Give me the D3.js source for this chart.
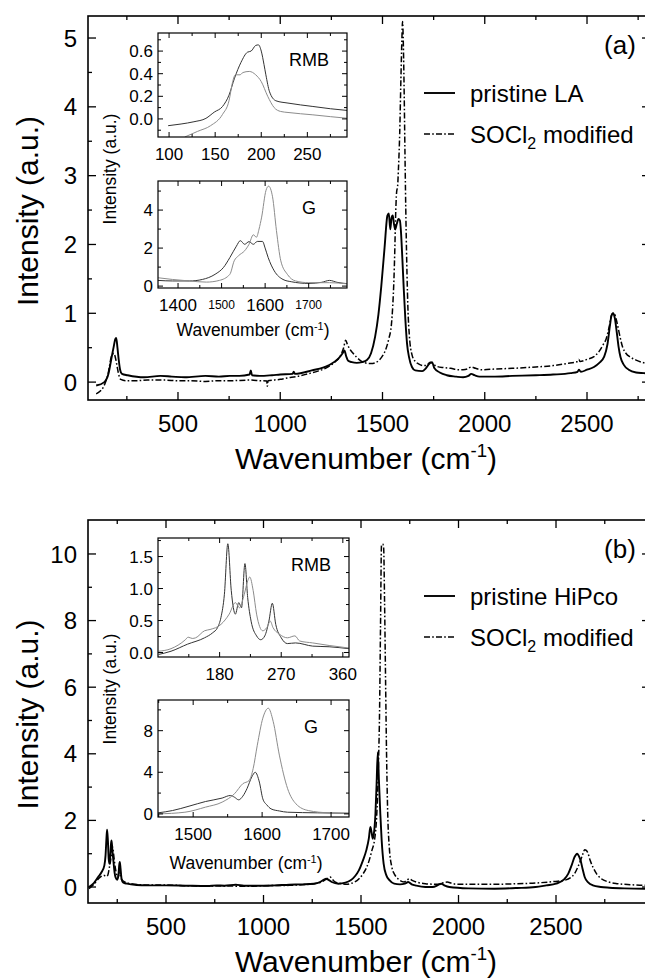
<!DOCTYPE html>
<html>
<head>
<meta charset="utf-8">
<script src="https://cdn.jsdelivr.net/npm/d3@7"></script>
<style>
  body { margin: 0; background: #fff; overflow: hidden; }
  svg { display: block; font-family: "Liberation Sans", Arial, sans-serif; }
</style>
</head>
<body>
<script>
// ---- spectra, [wavenumber, intensity] ----
const laPristineMain = [[100,-0.05],[140,0.0],[160,0.12],[170,0.27],[178,0.40],[186,0.52],[193,0.62],[198,0.64],[204,0.5],[210,0.33],[217,0.18],[226,0.12],[254,0.10],[334,0.07],[414,0.09],[470,0.08],[534,0.07],[634,0.09],[700,0.08],[754,0.09],[800,0.09],[850,0.11],[856,0.17],[862,0.1],[900,0.09],[960,0.1],[1000,0.11],[1060,0.12],[1066,0.15],[1072,0.12],[1154,0.17],[1234,0.24],[1284,0.34],[1305,0.42],[1314,0.46],[1322,0.38],[1332,0.31],[1350,0.29],[1374,0.28],[1400,0.29],[1424,0.32],[1444,0.42],[1464,0.66],[1480,0.98],[1494,1.39],[1510,1.95],[1524,2.42],[1531,2.45],[1538,2.22],[1544,2.38],[1550,2.42],[1556,2.3],[1562,2.22],[1570,2.3],[1578,2.37],[1585,2.35],[1590,2.2],[1597,1.8],[1604,1.35],[1612,0.9],[1620,0.56],[1630,0.36],[1644,0.22],[1660,0.17],[1694,0.16],[1712,0.2],[1730,0.27],[1742,0.29],[1754,0.2],[1780,0.14],[1814,0.1],[1860,0.08],[1894,0.07],[1920,0.09],[1934,0.12],[1950,0.1],[1974,0.08],[2050,0.08],[2134,0.09],[2250,0.1],[2334,0.11],[2420,0.13],[2454,0.15],[2460,0.18],[2470,0.15],[2500,0.18],[2534,0.22],[2560,0.28],[2584,0.37],[2600,0.55],[2612,0.82],[2620,0.97],[2628,1.0],[2636,0.93],[2644,0.76],[2654,0.52],[2664,0.36],[2680,0.25],[2704,0.18],[2740,0.14],[2779,0.13],[2810,0.12]];
const laSoclMain = [[100,-0.17],[120,-0.13],[134,-0.08],[148,0.02],[158,0.12],[166,0.25],[174,0.37],[180,0.4],[186,0.42],[192,0.38],[198,0.3],[204,0.2],[212,0.09],[220,0.04],[250,0.02],[294,0.02],[350,0.03],[434,0.03],[500,0.02],[560,0.02],[634,0.01],[700,0.02],[754,0.02],[854,0.03],[900,0.02],[934,0.015],[937,-0.06],[940,0.02],[1000,0.04],[1034,0.06],[1080,0.08],[1134,0.12],[1184,0.16],[1234,0.22],[1270,0.3],[1294,0.38],[1310,0.5],[1320,0.61],[1328,0.55],[1338,0.49],[1356,0.42],[1374,0.36],[1394,0.31],[1414,0.28],[1444,0.27],[1464,0.28],[1484,0.32],[1500,0.38],[1514,0.46],[1530,0.62],[1544,0.85],[1550,1.1],[1556,1.5],[1560,1.9],[1564,2.4],[1569,2.76],[1574,2.85],[1578,3.1],[1584,3.6],[1590,4.4],[1595,5.0],[1598,5.24],[1602,4.9],[1606,4.2],[1610,3.3],[1615,2.3],[1620,1.55],[1624,1.1],[1632,0.65],[1644,0.4],[1660,0.3],[1674,0.27],[1700,0.24],[1714,0.24],[1725,0.27],[1734,0.29],[1745,0.27],[1764,0.23],[1800,0.21],[1834,0.2],[1870,0.18],[1894,0.18],[1915,0.19],[1934,0.22],[1955,0.2],[1984,0.18],[2050,0.19],[2134,0.2],[2250,0.22],[2334,0.24],[2400,0.27],[2454,0.3],[2460,0.33],[2466,0.3],[2500,0.33],[2534,0.37],[2560,0.45],[2580,0.55],[2594,0.63],[2608,0.8],[2618,0.95],[2626,1.0],[2634,0.99],[2642,0.92],[2650,0.82],[2662,0.65],[2674,0.51],[2690,0.42],[2714,0.36],[2740,0.32],[2779,0.28],[2810,0.27]];
const laPristineRbm = [[99,-0.06],[113,-0.045],[127,-0.025],[140,0.005],[149,0.06],[158,0.11],[165,0.21],[171,0.36],[178,0.5],[185,0.59],[189,0.6],[194,0.65],[197,0.655],[200,0.6],[203,0.48],[205,0.39],[209,0.24],[216,0.16],[229,0.14],[256,0.11],[275,0.09],[293,0.075]];
const laSoclRbm = [[117,-0.16],[131,-0.11],[145,-0.06],[158,0.04],[165,0.16],[169,0.33],[172,0.39],[177,0.39],[180,0.41],[187,0.42],[194,0.39],[200,0.33],[207,0.2],[214,0.1],[221,0.066],[229,0.057],[256,0.036],[275,0.02],[293,0.006]];
const laPristineG = [[1354,0.3],[1387,0.27],[1426,0.27],[1456,0.35],[1485,0.62],[1504,0.97],[1519,1.5],[1534,2.1],[1543,2.39],[1553,2.2],[1563,2.34],[1573,2.2],[1582,2.35],[1594,2.35],[1600,2.0],[1607,1.5],[1621,0.8],[1641,0.35],[1660,0.23],[1700,0.14],[1730,0.2],[1748,0.3],[1765,0.2],[1788,0.13]];
const laSoclG = [[1354,0.44],[1387,0.35],[1426,0.27],[1465,0.21],[1495,0.3],[1519,0.62],[1529,1.33],[1539,1.6],[1553,1.86],[1563,2.2],[1573,2.7],[1580,2.57],[1586,3.0],[1592,3.63],[1602,5.04],[1608,5.26],[1617,4.7],[1626,2.92],[1636,1.33],[1651,0.62],[1670,0.27],[1700,0.18],[1748,0.18],[1788,0.12]];

const hipcoPristineMain = [[105,0.0],[130,0.12],[152,0.3],[170,0.45],[184,0.65],[190,0.95],[195,1.5],[198,1.72],[202,1.4],[206,0.85],[210,0.7],[214,0.9],[218,1.3],[221,1.4],[225,1.1],[230,0.8],[236,0.45],[242,0.28],[250,0.22],[256,0.35],[260,0.65],[263,0.75],[267,0.55],[272,0.25],[280,0.14],[300,0.1],[350,0.06],[400,0.05],[500,0.05],[600,0.04],[711,0.03],[760,0.05],[800,0.04],[858,0.07],[900,0.04],[1005,0.04],[1060,0.05],[1132,0.07],[1200,0.08],[1258,0.1],[1290,0.15],[1310,0.22],[1321,0.25],[1332,0.22],[1350,0.15],[1384,0.1],[1420,0.13],[1447,0.2],[1470,0.33],[1489,0.5],[1510,0.8],[1527,1.1],[1540,1.45],[1548,1.8],[1554,1.65],[1560,1.45],[1566,1.6],[1574,2.2],[1580,3.1],[1586,4.05],[1592,3.2],[1599,2.2],[1606,1.4],[1616,0.7],[1630,0.35],[1647,0.2],[1670,0.1],[1700,0.08],[1725,0.1],[1742,0.15],[1760,0.08],[1784,0.04],[1830,0.0],[1868,0.0],[1895,0.06],[1911,0.1],[1930,0.04],[1953,0.0],[2050,-0.04],[2184,-0.05],[2300,-0.03],[2395,0.0],[2450,0.05],[2500,0.1],[2540,0.22],[2563,0.4],[2580,0.65],[2595,0.9],[2609,1.0],[2618,0.92],[2626,0.8],[2636,0.55],[2647,0.3],[2665,0.14],[2689,0.05],[2730,0.0],[2774,-0.02],[2850,-0.04],[2951,-0.05],[2985,-0.05]];
const hipcoSoclMain = [[105,-0.05],[130,0.08],[163,0.3],[180,0.35],[195,0.32],[201,0.35],[210,0.6],[216,0.8],[222,1.05],[226,1.2],[231,1.0],[237,0.7],[244,0.45],[252,0.3],[258,0.4],[262,0.45],[268,0.27],[289,0.15],[320,0.1],[400,0.06],[500,0.06],[600,0.04],[711,0.03],[800,0.03],[921,0.02],[1000,0.04],[1132,0.05],[1200,0.07],[1258,0.1],[1300,0.16],[1321,0.23],[1342,0.3],[1355,0.22],[1367,0.15],[1400,0.1],[1426,0.08],[1450,0.11],[1468,0.15],[1490,0.25],[1511,0.4],[1528,0.58],[1542,0.8],[1556,1.1],[1569,1.4],[1578,1.9],[1584,2.6],[1590,3.8],[1595,5.2],[1600,7.8],[1605,10.25],[1611,10.3],[1616,10.2],[1621,8.5],[1626,6.2],[1631,4.0],[1637,2.2],[1645,1.2],[1658,0.6],[1672,0.38],[1689,0.25],[1721,0.15],[1735,0.2],[1748,0.25],[1762,0.2],[1784,0.15],[1830,0.1],[1889,0.08],[1915,0.12],[1942,0.15],[1965,0.11],[1995,0.08],[2100,0.08],[2184,0.08],[2300,0.1],[2395,0.12],[2480,0.16],[2542,0.2],[2575,0.28],[2595,0.4],[2612,0.6],[2626,0.8],[2638,1.0],[2647,1.12],[2655,1.1],[2663,1.03],[2675,0.8],[2689,0.6],[2710,0.38],[2732,0.25],[2770,0.15],[2816,0.1],[2880,0.07],[2951,0.05],[2985,0.05]];
const hipcoPristineRbm = [[91,-0.03],[109,0.02],[133,0.13],[158,0.23],[170,0.31],[177,0.39],[182,0.55],[187,0.91],[192,1.7],[197,0.97],[203,0.6],[208,0.78],[212,0.7],[217,1.39],[221,0.86],[226,0.49],[234,0.26],[240,0.2],[246,0.26],[252,0.49],[257,0.77],[262,0.44],[270,0.23],[279,0.14],[291,0.15],[316,0.1],[340,0.09],[369,0.06]];
const hipcoSoclRbm = [[91,0.02],[109,0.06],[130,0.2],[134,0.24],[140,0.22],[145,0.23],[158,0.34],[166,0.36],[182,0.44],[194,0.6],[203,0.78],[209,0.7],[216,0.91],[221,1.12],[224,1.18],[229,0.97],[234,0.6],[243,0.34],[249,0.39],[254,0.49],[258,0.39],[267,0.29],[279,0.23],[290,0.26],[297,0.18],[316,0.15],[340,0.11],[369,0.07]];
const hipcoPristineG = [[1449,0.1],[1470,0.32],[1494,0.74],[1518,1.19],[1542,1.52],[1554,1.77],[1560,1.6],[1566,1.35],[1572,1.7],[1578,2.42],[1585,3.55],[1590,4.0],[1596,3.06],[1601,1.45],[1607,0.85],[1613,0.48],[1625,0.28],[1637,0.16],[1680,0.1],[1726,0.06]];
const hipcoSoclG = [[1449,0.0],[1488,0.16],[1518,0.65],[1542,1.13],[1560,1.94],[1572,2.9],[1581,3.2],[1587,4.35],[1593,6.6],[1601,9.2],[1609,10.16],[1616,8.9],[1625,5.65],[1637,2.42],[1649,0.97],[1667,0.32],[1697,0.1],[1726,0.06]];

// ---- tick values ----
const mainXMajor = [500, 1000, 1500, 2000, 2500];
const mainXMinor = [250, 750, 1250, 1750, 2250, 2750];
const aYMajor = [0, 1, 2, 3, 4, 5];
const aYMinor = [0.5, 1.5, 2.5, 3.5, 4.5];
const bYMajor = [0, 2, 4, 6, 8, 10];
const bYMinor = [1, 3, 5, 7, 9];
const aRbmX = [100, 150, 200, 250], aRbmXMinor = [125, 175, 225, 275];
const aRbmY = [0.0, 0.2, 0.4, 0.6], aRbmYMinor = [-0.1, 0.1, 0.3, 0.5, 0.7];
const aGX = [1400, 1500, 1600, 1700], aGXMinor = [1450, 1550, 1650, 1750];
const aGY = [0, 2, 4], aGYMinor = [1, 3, 5];
const bRbmX = [90, 180, 270, 360], bRbmXMinor = [135, 225, 315];
const bRbmY = [0.0, 0.5, 1.0, 1.5], bRbmYMinor = [0.25, 0.75, 1.25, 1.75];
const bGX = [1500, 1600, 1700], bGXMinor = [1450, 1550, 1650];
const bGY = [0, 4, 8], bGYMinor = [2, 6, 10];

const legendA = ["pristine LA", "SOCl", "2", " modified"];
const legendB = ["pristine HiPco", "SOCl", "2", " modified"];

const W = 645, H = 979;
const svg = d3.select("body").append("svg").attr("width", W).attr("height", H);

let clipCount = 0;

function inside(vals, dom) {
  const lo = Math.min(...dom), hi = Math.max(...dom);
  return vals.filter(v => v > lo + 1e-9 && v < hi - 1e-9);
}

// frame with inward ticks on all four sides
function frame(g, x, y, o) {
  const [l, r] = x.range(), [b, t] = y.range();
  const xs = [[inside(o.xMajor, x.domain()), o.major], [inside(o.xMinor, x.domain()), o.minor]];
  const ys = [[inside(o.yMajor, y.domain()), o.major], [inside(o.yMinor, y.domain()), o.minor]];
  const tk = g.append("g").attr("stroke", "#000").attr("stroke-width", o.tickW);
  xs.forEach(([vals, len]) => vals.forEach(v => {
    tk.append("line").attr("x1", x(v)).attr("x2", x(v)).attr("y1", b).attr("y2", b - len);
    tk.append("line").attr("x1", x(v)).attr("x2", x(v)).attr("y1", t).attr("y2", t + len);
  }));
  ys.forEach(([vals, len]) => vals.forEach(v => {
    tk.append("line").attr("y1", y(v)).attr("y2", y(v)).attr("x1", l).attr("x2", l + len);
    tk.append("line").attr("y1", y(v)).attr("y2", y(v)).attr("x1", r).attr("x2", r - len);
  }));
  g.append("rect").attr("x", l).attr("y", t).attr("width", r - l).attr("height", b - t)
    .attr("fill", "none").attr("stroke", "#000").attr("stroke-width", o.frameW);
}

function curves(g, x, y, series) {
  const id = "clip" + (clipCount++);
  const [l, r] = x.range(), [b, t] = y.range();
  svg.append("clipPath").attr("id", id).append("rect")
    .attr("x", l).attr("y", t).attr("width", r - l).attr("height", b - t);
  const line = d3.line().x(d => x(d[0])).y(d => y(d[1])).curve(d3.curveMonotoneX);
  const cg = g.append("g").attr("clip-path", `url(#${id})`);
  series.forEach(s => {
    cg.append("path").attr("d", line(s.data)).attr("fill", "none")
      .attr("stroke", s.color).attr("stroke-width", s.width)
      .attr("stroke-dasharray", s.dash || null).attr("stroke-linejoin", "round");
  });
}

function supText(g, cx, cy, size, base, sup, tail) {
  const t = g.append("text").attr("x", cx).attr("y", cy).attr("text-anchor", "middle")
    .attr("font-size", size).attr("fill", "#000");
  t.append("tspan").text(base);
  t.append("tspan").attr("font-size", size * 0.62).attr("dy", -size * 0.38).text(sup);
  t.append("tspan").attr("dy", size * 0.38).text(tail);
  return t;
}

function mainPanel(o) {
  const g = svg.append("g");
  const x = d3.scaleLinear().domain(o.xDomain).range([88, 650]);
  const y = d3.scaleLinear().domain(o.yDomain).range([o.bottom, o.top]);
  curves(g, x, y, [
    { data: o.pristine, color: "#000", width: 1.9 },
    { data: o.socl, color: "#000", width: 1.5, dash: "6,2.2,1.6,2.2" }
  ]);
  frame(g, x, y, { xMajor: mainXMajor, xMinor: mainXMinor, yMajor: o.yMajor, yMinor: o.yMinor,
    major: 8, minor: 4, tickW: 1.3, frameW: 1.6 });
  // tick labels
  g.append("g").selectAll("text").data(mainXMajor).join("text")
    .attr("x", d => x(d)).attr("y", o.bottom + 23).attr("dy", "0.36em")
    .attr("text-anchor", "middle").attr("font-size", 24).text(d => d);
  g.append("g").selectAll("text").data(o.yMajor).join("text")
    .attr("x", 77).attr("y", d => y(d)).attr("dy", "0.36em")
    .attr("text-anchor", "end").attr("font-size", 24).text(d => d);
  // axis titles
  supText(g, 366, o.bottom + 58, 30, "Wavenumber (cm", "-1", ")").attr("dy", "0.36em");
  g.append("text").attr("transform", `translate(27,${(o.top + o.bottom) / 2 + 3}) rotate(-90)`)
    .attr("text-anchor", "middle").attr("dy", "0.36em").attr("font-size", 30).text("Intensity (a.u.)");
  // panel tag and legend
  g.append("text").attr("x", 620).attr("y", o.tagY).attr("dy", "0.36em")
    .attr("text-anchor", "middle").attr("font-size", 26).text(o.tag);
  const lg = g.append("g");
  lg.append("line").attr("x1", 424).attr("x2", 455).attr("y1", o.legY).attr("y2", o.legY)
    .attr("stroke", "#000").attr("stroke-width", 1.9);
  lg.append("line").attr("x1", 424).attr("x2", 455).attr("y1", o.legY + 41).attr("y2", o.legY + 41)
    .attr("stroke", "#000").attr("stroke-width", 1.3).attr("stroke-dasharray", "6,2.2,1.6,2.2");
  lg.append("text").attr("x", 470).attr("y", o.legY).attr("dy", "0.36em")
    .attr("font-size", 24).text(o.legend[0]);
  const t2 = lg.append("text").attr("x", 470).attr("y", o.legY + 41).attr("dy", "0.36em")
    .attr("font-size", 24);
  t2.append("tspan").text(o.legend[1]);
  t2.append("tspan").attr("font-size", 16).attr("dy", 6).text(o.legend[2]);
  t2.append("tspan").attr("dy", -6).text(o.legend[3]);
}

function inset(o) {
  const g = svg.append("g");
  const x = d3.scaleLinear().domain(o.xDomain).range([o.left, o.right]);
  const y = d3.scaleLinear().domain(o.yDomain).range([o.bottom, o.top]);
  g.append("rect").attr("x", o.left).attr("y", o.top).attr("width", o.right - o.left)
    .attr("height", o.bottom - o.top).attr("fill", "#fff");
  curves(g, x, y, [
    { data: o.pristine, color: "#333", width: 1 },
    { data: o.socl, color: "#8c8c8c", width: 1 }
  ]);
  frame(g, x, y, { xMajor: o.xMajor, xMinor: o.xMinor, yMajor: o.yMajor, yMinor: o.yMinor,
    major: 5, minor: 3, tickW: 1, frameW: 1.2 });
  g.append("g").selectAll("text").data(inside(o.xMajor, x.domain()).concat(o.xMajor.filter(v => v === x.domain()[1])))
    .join("text")
    .attr("x", d => x(d)).attr("y", o.bottom + 17).attr("dy", "0.36em")
    .attr("text-anchor", "middle")
    .attr("font-size", d => (o.smallX || []).includes(d) ? 12 : 17)
    .text(d => d);
  g.append("g").selectAll("text").data(o.yMajor).join("text")
    .attr("x", o.left - 5).attr("y", d => y(d)).attr("dy", "0.36em")
    .attr("text-anchor", "end").attr("font-size", 17).text(d => o.yFmt ? d3.format(o.yFmt)(d) : d);
  g.append("text").attr("x", o.right - 38).attr("y", o.top + 27).attr("dy", "0.36em")
    .attr("text-anchor", "middle").attr("font-size", 18).text(o.label);
  return g;
}

// panel (a)
mainPanel({ xDomain: [60, 2808], yDomain: [-0.26, 5.32], top: 16, bottom: 400,
  yMajor: aYMajor, yMinor: aYMinor, pristine: laPristineMain, socl: laSoclMain,
  tag: "(a)", tagY: 45, legY: 93, legend: legendA });
inset({ left: 158, right: 347, top: 33, bottom: 137, xDomain: [88, 293], yDomain: [-0.16, 0.76],
  xMajor: aRbmX, xMinor: aRbmXMinor, yMajor: aRbmY, yMinor: aRbmYMinor, yFmt: ".1f",
  pristine: laPristineRbm, socl: laSoclRbm, label: "RMB" });
const gA = inset({ left: 158, right: 347, top: 181, bottom: 288, xDomain: [1354, 1788], yDomain: [-0.1, 5.53],
  xMajor: aGX, xMinor: aGXMinor, yMajor: aGY, yMinor: aGYMinor, smallX: [1500, 1700],
  pristine: laPristineG, socl: laSoclG, label: "G" });
supText(gA, 253, 330, 17.5, "Wavenumber (cm", "-1", ")").attr("dy", "0.36em");
gA.append("text").attr("transform", "translate(110,169) rotate(-90)").attr("text-anchor", "middle")
  .attr("dy", "0.36em").attr("font-size", 17.5).text("Intensity (a.u.)");

// panel (b)
mainPanel({ xDomain: [100, 2982], yDomain: [-0.48, 11.02], top: 520, bottom: 903,
  yMajor: bYMajor, yMinor: bYMinor, pristine: hipcoPristineMain, socl: hipcoSoclMain,
  tag: "(b)", tagY: 549, legY: 596, legend: legendB });
inset({ left: 158, right: 349, top: 538, bottom: 657, xDomain: [90, 369], yDomain: [-0.07, 1.79],
  xMajor: bRbmX, xMinor: bRbmXMinor, yMajor: bRbmY, yMinor: bRbmYMinor, yFmt: ".1f",
  pristine: hipcoPristineRbm, socl: hipcoSoclRbm, label: "RMB" });
const gB = inset({ left: 158, right: 349, top: 700, bottom: 817, xDomain: [1449, 1726], yDomain: [-0.3, 10.95],
  xMajor: bGX, xMinor: bGXMinor, yMajor: bGY, yMinor: bGYMinor,
  pristine: hipcoPristineG, socl: hipcoSoclG, label: "G" });
supText(gB, 246, 863, 17.5, "Wavenumber (cm", "-1", ")").attr("dy", "0.36em");
gB.append("text").attr("transform", "translate(110,689) rotate(-90)").attr("text-anchor", "middle")
  .attr("dy", "0.36em").attr("font-size", 17.5).text("Intensity (a.u.)");
</script>
</body>
</html>
